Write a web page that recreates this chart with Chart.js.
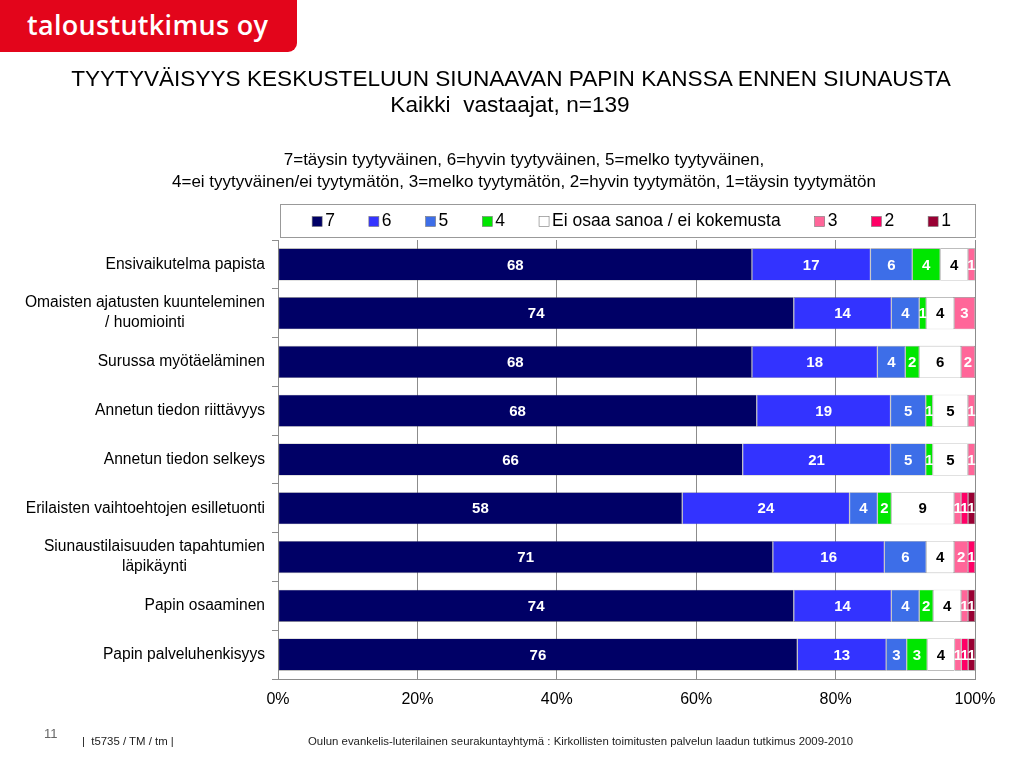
<!DOCTYPE html>
<html>
<head>
<meta charset="utf-8">
<script src="https://cdn.jsdelivr.net/npm/chart.js@4"></script>
<style>
  body { margin: 0; background: #fff; font-family: Arial, "Liberation Sans", sans-serif; }
  #wrap { position: relative; width: 1024px; height: 768px; overflow: hidden; }
  #chart { position: absolute; left: 0; top: 0; }
  .logo { position: absolute; left: 0; top: 0; width: 297px; height: 52px; background: #e3051b; border-bottom-right-radius: 9px; }
  .logo span { position: absolute; left: 27px; top: 6px; color: #fff; font-family: "Open Sans", sans-serif; font-weight: 600; font-size: 27px; letter-spacing: 0.3px; }
  .t { position: absolute; left: 0; width: 1024px; text-align: center; color: #000; white-space: pre; }
  .foot { position: absolute; font-family: Arial, "Liberation Sans", sans-serif; font-size: 11.4px; color: #222; white-space: pre; }
</style>
</head>
<body>
<div id="wrap">
  <canvas id="chart" width="1024" height="768"></canvas>
  <div class="logo"><span>taloustutkimus oy</span></div>
  <div class="t" style="top:66px;font-size:22.6px;left:-1px;">TYYTYVÄISYYS KESKUSTELUUN SIUNAAVAN PAPIN KANSSA ENNEN SIUNAUSTA</div>
  <div class="t" style="top:92px;font-size:22.6px;left:-2px;">Kaikki  vastaajat, n=139</div>
  <div class="t" style="top:150px;font-size:17px;left:12px;">7=täysin tyytyväinen, 6=hyvin tyytyväinen, 5=melko tyytyväinen,</div>
  <div class="t" style="top:172px;font-size:17px;left:12px;">4=ei tyytyväinen/ei tyytymätön, 3=melko tyytymätön, 2=hyvin tyytymätön, 1=täysin tyytymätön</div>
  <div class="foot" style="left:44px;top:726px;color:#666;font-size:13px;">11</div>
  <div class="foot" style="left:82px;top:735px;">|  t5735 / TM / tm |</div>
  <div class="foot" style="left:308px;top:735px;">Oulun evankelis-luterilainen seurakuntayhtymä : Kirkollisten toimitusten palvelun laadun tutkimus 2009-2010</div>
</div>
<script>
const categories = [
  ['Ensivaikutelma papista'],
  ['Omaisten ajatusten kuunteleminen', '/ huomiointi'],
  ['Surussa myötäeläminen'],
  ['Annetun tiedon riittävyys'],
  ['Annetun tiedon selkeys'],
  ['Erilaisten vaihtoehtojen esilletuonti'],
  ['Siunaustilaisuuden tapahtumien', 'läpikäynti'],
  ['Papin osaaminen'],
  ['Papin palveluhenkisyys']
];

const seriesNames = ['7', '6', '5', '4', 'Ei osaa sanoa / ei kokemusta', '3', '2', '1'];

const s7  = [68, 74, 68, 68, 66, 58, 71, 74, 76];
const s6  = [17, 14, 18, 19, 21, 24, 16, 14, 13];
const s5  = [6, 4, 4, 5, 5, 4, 6, 4, 3];
const s4  = [4, 1, 2, 1, 1, 2, 0, 2, 3];
const eos = [4, 4, 6, 5, 5, 9, 4, 4, 4];
const s3  = [1, 3, 2, 1, 1, 1, 2, 1, 1];
const s2  = [0, 0, 0, 0, 0, 1, 1, 0, 1];
const s1  = [0, 0, 0, 0, 0, 1, 0, 1, 1];

const xTicks = [0, 20, 40, 60, 80, 100];

const allSeries = [s7, s6, s5, s4, eos, s3, s2, s1];
const colors = ['#000066', '#3333ff', '#3d6ee8', '#00e600', '#ffffff', '#ff6699', '#ff0066', '#990033'];
const labelColors = ['#fff', '#fff', '#fff', '#fff', '#000', '#fff', '#fff', '#fff'];

// 100% stacked: each row scaled to its own total
const rowTotals = categories.map((_, i) => allSeries.reduce((s, a) => s + a[i], 0));

const datasets = seriesNames.map((name, k) => ({
  label: name,
  raw: allSeries[k],
  data: allSeries[k].map((v, i) => v ? v / rowTotals[i] * 100 : null),
  backgroundColor: colors[k],
  borderColor: 'rgba(90,90,90,0.7)',
  borderWidth: 0.6,
  borderSkipped: false,
  barPercentage: 0.66,
  categoryPercentage: 1,
  labelColor: labelColors[k]
}));

const valueLabels = {
  id: 'valueLabels',
  afterDatasetsDraw(chart) {
    const ctx = chart.ctx;
    ctx.save();
    ctx.font = 'bold 15px Arial, "Liberation Sans", sans-serif';
    ctx.textAlign = 'center';
    ctx.textBaseline = 'middle';
    chart.data.datasets.forEach((ds, di) => {
      chart.getDatasetMeta(di).data.forEach((el, i) => {
        const v = ds.raw[i];
        if (!v) return;
        const p = el.getCenterPoint();
        ctx.fillStyle = ds.labelColor;
        ctx.fillText(String(v), p.x, p.y + 1);
      });
    });
    ctx.restore();
  }
};

const catLabels = {
  id: 'catLabels',
  afterDraw(chart) {
    const ctx = chart.ctx;
    const yScale = chart.scales.y;
    const right = chart.chartArea.left - 13;
    const lh = 20;
    ctx.save();
    ctx.font = '15.6px Arial, "Liberation Sans", sans-serif';
    ctx.fillStyle = '#000';
    ctx.textAlign = 'center';
    ctx.textBaseline = 'middle';
    categories.forEach((lines, i) => {
      const y = yScale.getPixelForValue(i);
      const w = Math.max(...lines.map(l => ctx.measureText(l).width));
      const cx = right - w / 2;
      const y0 = y - (lines.length - 1) * lh / 2;
      lines.forEach((l, j) => ctx.fillText(l, cx, y0 + j * lh));
    });
    ctx.restore();
  }
};

const boxLegend = {
  id: 'boxLegend',
  afterDraw(chart) {
    const ctx = chart.ctx;
    const a = chart.chartArea;
    const top = a.top - 36, h = 33;
    const left = a.left + 2, right = a.right;
    ctx.save();
    ctx.fillStyle = '#fff';
    ctx.fillRect(left, top, right - left, h);
    ctx.strokeStyle = '#999';
    ctx.lineWidth = 1;
    ctx.strokeRect(left + 0.5, top + 0.5, right - left, h);
    ctx.font = '17.5px Arial, "Liberation Sans", sans-serif';
    ctx.textBaseline = 'middle';
    ctx.textAlign = 'left';
    const sq = 10, gap = 3, spacing = 34;
    const widths = chart.data.datasets.map(ds => sq + gap + ctx.measureText(ds.label).width);
    const total = widths.reduce((s, w) => s + w, 0) + spacing * (widths.length - 1);
    let x = (left + right) / 2 + 4 - total / 2;
    const cy = top + h / 2 + 1;
    chart.data.datasets.forEach((ds, k) => {
      ctx.fillStyle = ds.backgroundColor;
      ctx.fillRect(x, cy - sq / 2, sq, sq);
      ctx.strokeStyle = '#777';
      ctx.lineWidth = 0.6;
      ctx.strokeRect(x, cy - sq / 2, sq, sq);
      ctx.fillStyle = '#000';
      ctx.fillText(ds.label, x + sq + gap, cy);
      x += widths[k] + spacing;
    });
    ctx.restore();
  }
};

new Chart(document.getElementById('chart').getContext('2d'), {
  type: 'bar',
  data: { labels: categories.map(c => c.join(' ')), datasets: datasets },
  options: {
    indexAxis: 'y',
    responsive: false,
    animation: false,
    layout: { padding: { top: 240, right: 49, bottom: 49, left: 0 } },
    plugins: { legend: { display: false }, tooltip: { enabled: false } },
    scales: {
      x: {
        stacked: true,
        min: 0,
        max: 100,
        afterBuildTicks: s => { s.ticks = xTicks.map(v => ({ value: v })); },
        afterFit: s => { s.height = 40; },
        ticks: {
          callback: v => v + '%',
          color: '#000',
          font: { size: 16, family: 'Arial, "Liberation Sans", sans-serif' },
          padding: 11,
          maxRotation: 0
        },
        grid: { color: '#8c8c8c', lineWidth: 1, drawTicks: false },
        border: { color: '#8c8c8c' }
      },
      y: {
        stacked: true,
        afterFit: s => { s.width = 278; },
        ticks: { display: false },
        grid: { offset: true, drawOnChartArea: false, color: '#8c8c8c', tickLength: 6 },
        border: { color: '#8c8c8c' }
      }
    }
  },
  plugins: [valueLabels, catLabels, boxLegend]
});
</script>
</body>
</html>
